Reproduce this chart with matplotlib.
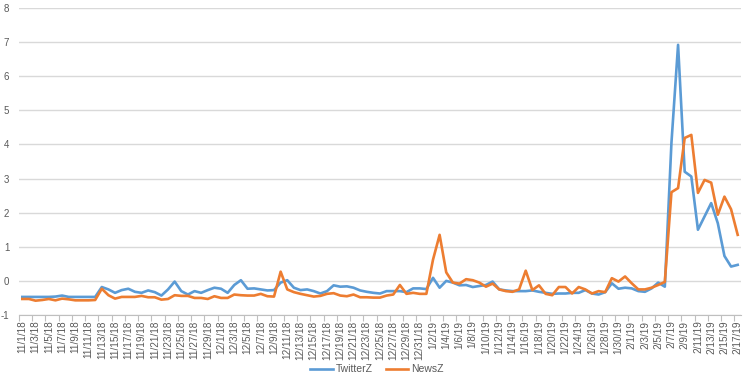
import datetime as dt
import matplotlib
matplotlib.use("Agg")
import matplotlib.pyplot as plt
import numpy as np

BLUE, ORANGE = "#5B9BD5", "#ED7D31"
GRID, AXIS, LBL = "#D9D9D9", "#BFBFBF", "#595959"

start = dt.date(2018, 11, 1)
dates = [start + dt.timedelta(days=i) for i in range(109)]
labels = [f"{d.month}/{d.day}/{d.year % 100}" for d in dates]

# 11/1/18 .. 2/17/19, daily
twitter_z = [
    -0.47, -0.47, -0.47, -0.47, -0.47, -0.46, -0.43, -0.47, -0.47, -0.47,  # 11/1-11/10
    -0.47, -0.47, -0.18, -0.25, -0.35, -0.27, -0.23, -0.32, -0.35, -0.28,  # 11/11-11/20
    -0.33, -0.43, -0.25, -0.02, -0.30, -0.40, -0.30, -0.35, -0.27, -0.20,  # 11/21-11/30
    -0.23, -0.35, -0.12, 0.02, -0.23, -0.22, -0.25, -0.28, -0.27, -0.05,   # 12/1-12/10
    0.02, -0.20, -0.27, -0.25, -0.30, -0.37, -0.30, -0.13, -0.17, -0.16,   # 12/11-12/20
    -0.20, -0.28, -0.32, -0.35, -0.37, -0.30, -0.30, -0.30, -0.33, -0.22,  # 12/21-12/30
    -0.22, -0.24, 0.09, -0.20, 0.00, -0.05, -0.13, -0.12, -0.18, -0.15,    # 12/31-1/9
    -0.12, -0.02, -0.25, -0.28, -0.30, -0.30, -0.30, -0.28, -0.32, -0.35,  # 1/10-1/19
    -0.38, -0.37, -0.37, -0.35, -0.35, -0.27, -0.37, -0.40, -0.33, -0.07,  # 1/20-1/29
    -0.23, -0.20, -0.22, -0.30, -0.32, -0.22, -0.05, -0.17, 4.05, 6.92,    # 1/30-2/8
    3.20, 3.06, 1.50, 1.89, 2.28, 1.69, 0.73, 0.42, 0.47,                  # 2/9-2/17
]
news_z = [
    -0.53, -0.53, -0.58, -0.56, -0.53, -0.57, -0.52, -0.54, -0.57, -0.57,
    -0.57, -0.56, -0.23, -0.42, -0.52, -0.47, -0.47, -0.47, -0.44, -0.48,
    -0.48, -0.55, -0.53, -0.42, -0.44, -0.44, -0.50, -0.50, -0.53, -0.45,
    -0.50, -0.50, -0.40, -0.42, -0.43, -0.43, -0.38, -0.45, -0.46, 0.27,
    -0.25, -0.33, -0.38, -0.42, -0.46, -0.44, -0.38, -0.36, -0.43, -0.45,
    -0.40, -0.48, -0.48, -0.49, -0.49, -0.43, -0.40, -0.12, -0.38, -0.35,
    -0.38, -0.38, 0.62, 1.35, 0.25, -0.05, -0.08, 0.05, 0.02, -0.05,
    -0.17, -0.08, -0.25, -0.30, -0.32, -0.25, 0.30, -0.27, -0.13, -0.38,
    -0.42, -0.18, -0.18, -0.37, -0.18, -0.25, -0.37, -0.30, -0.33, 0.08,
    -0.02, 0.13, -0.07, -0.25, -0.25, -0.20, -0.12, -0.03, 2.60, 2.72,
    4.19, 4.28, 2.58, 2.96, 2.88, 1.94, 2.47, 2.10, 1.35,
]

plt.rcParams["font.family"] = ["Liberation Sans", "DejaVu Sans"]
plt.rcParams["axes.unicode_minus"] = False

fig = plt.figure(figsize=(7.5, 3.78), dpi=100)
ax = fig.add_axes([19 / 750, 63 / 378, 722 / 750, 307 / 378])

x = np.arange(len(dates))
ax.plot(x, twitter_z, color=BLUE, lw=1.9, label="TwitterZ", solid_joinstyle="round")
ax.plot(x, news_z, color=ORANGE, lw=1.9, label="NewsZ", solid_joinstyle="round")

ax.set_xlim(-0.5, len(dates) - 0.5)
ax.set_ylim(-1, 8)
ax.set_yticks(range(-1, 9))
ax.tick_params(axis="y", length=0, pad=7, labelsize=7, labelcolor=LBL)
ax.grid(axis="y", color=GRID, lw=1)
ax.set_axisbelow(True)

ax.set_xticks(x[::2])
ax.set_xticklabels(labels[::2], rotation=90, fontsize=7.2, color=LBL)
ax.set_xticks(np.arange(-0.5, len(dates), 2), minor=True)
ax.tick_params(axis="x", which="major", length=0, pad=4)
ax.tick_params(axis="x", which="minor", length=4, color=AXIS, width=0.8)

for s in ["top", "right", "left"]:
    ax.spines[s].set_visible(False)
ax.spines["bottom"].set_color(AXIS)
ax.spines["bottom"].set_linewidth(0.8)

fig.legend(loc="center", bbox_to_anchor=(377 / 750, 1 - 369.5 / 378), ncol=2,
           frameon=False, fontsize=7.5, handlelength=2.2, columnspacing=1.2,
           handletextpad=0.3, labelcolor=LBL, borderpad=0.1)

fig.savefig("out.png", dpi=100)
